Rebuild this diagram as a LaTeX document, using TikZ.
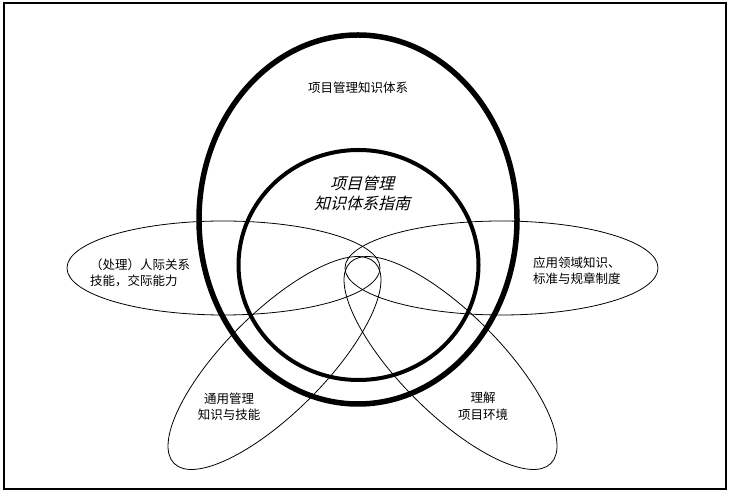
\documentclass[tikz,border=0pt]{standalone}
\usepackage{fontspec}
\usepackage{tikz}
\newfontfamily\cjk{Noto Sans CJK SC}
\newfontfamily\cjkslant[FakeSlant=0.25]{Noto Sans CJK SC}

\begin{document}
\begin{tikzpicture}[x=1pt,y=1pt,
  petal/.style={line width=0.8pt},
  body/.style={line width=#1},
  txt/.style={inner sep=0pt,font=\cjk\fontsize{12.5}{16.5}\selectfont},
  guide/.style={inner sep=0pt,align=center,font=\cjkslant\fontsize{16}{20}\selectfont}]
\useasboundingbox (0,0) rectangle (730,492);
\draw[line width=2pt] (4,3) rectangle (725.5,488.5);
% centres
\coordinate (pmbok) at (358,272.5);
\coordinate (guide) at (358.5,227);
\coordinate (people) at (223.5,224);
\coordinate (domain) at (501.5,224);
\coordinate (general) at (274.5,129);
\coordinate (environ) at (450.5,129);
% the four outer areas
\draw[petal] (people) ellipse [x radius=156.5,y radius=47];
\draw[petal] (domain) ellipse [x radius=156.5,y radius=47];
\draw[petal] (general) ellipse [x radius=142,y radius=50,rotate=45];
\draw[petal] (environ) ellipse [x radius=142,y radius=50,rotate=-45];
% body of knowledge and guide
\draw[body=5.5pt] (pmbok) ellipse [x radius=159,y radius=184.5];
\draw[body=4pt] (guide) ellipse [x radius=120,y radius=115];
\node[txt] (pmbok text) at (358,404) {项目管理知识体系};
\node[guide] (guide text) at (362,299) {项目管理\\知识体系指南};
\node[txt,align=left,anchor=west] (people text) at (90,219) {（处理）人际关系\\技能，交际能力};
\node[txt,align=left,anchor=west] (domain text) at (533,221.5) {应用领域知识、\\标准与规章制度};
\node[txt,align=center] (general text) at (229,85.5) {通用管理\\知识与技能};
\node[txt,align=center] (environ text) at (483,85.5) {理解\\项目环境};
\end{tikzpicture}
\end{document}
